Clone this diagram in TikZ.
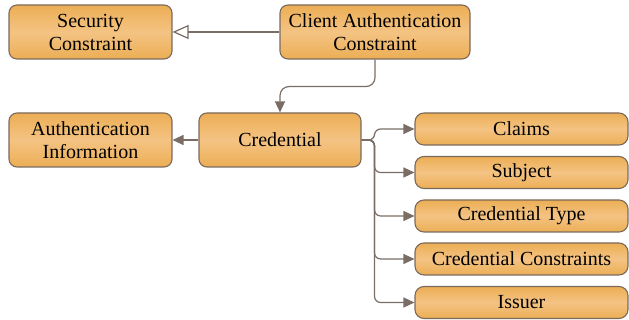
\documentclass[tikz,border=0pt]{standalone}
\usepackage{fontspec}
\setmainfont{Liberation Serif}
\usetikzlibrary{arrows.meta}
\definecolor{boxedge}{HTML}{7B6A5C}
\definecolor{boxtop}{HTML}{ECAE55}
\definecolor{boxmid}{HTML}{F4C383}
\definecolor{wire}{HTML}{7A6D66}
\tikzset{
  box/.style={draw=boxedge, line width=1.1pt, rounded corners=8pt,
    top color=boxtop, bottom color=boxtop, middle color=boxmid,
    align=center, inner sep=0pt, font=\fontsize{20}{23}\selectfont},
  bigbox/.style={box, minimum height=54pt},
  smallbox/.style={box, minimum height=32pt, minimum width=213pt, rounded corners=9pt},
  conn/.style={draw=wire, line width=1.2pt, -{Triangle[length=11pt,width=10pt]}},
  inherit/.style={draw=wire, line width=1.2pt, -{Triangle[open,length=16pt,width=14pt,fill=white]}}
}
\begin{document}
\begin{tikzpicture}[x=1pt,y=-1pt]
\useasboundingbox (0,0) rectangle (629,320);
% upper row
\node[bigbox, minimum width=163pt] (sec) at (90.5,32) {Security\\Constraint};
\node[bigbox, minimum width=190pt] (client) at (375,32) {Client Authentication\\Constraint};
% middle row
\node[bigbox, minimum width=163pt] (auth) at (90.5,140) {Authentication\\Information};
\node[bigbox, minimum width=162pt] (cred) at (280,140) {Credential};
% credential parts
\node[smallbox] (claims) at (521.5,129) {Claims};
\node[smallbox] (subject) at (521.5,172.5) {Subject};
\node[smallbox] (ctype) at (521.5,216) {Credential Type};
\node[smallbox] (ccons) at (521.5,259) {Credential Constraints};
\node[smallbox] (issuer) at (521.5,302.5) {Issuer};
% connectors
\draw[inherit] (client.west) -- (sec.east);
\draw[conn, rounded corners=9pt] (client.south) -- ++(0,27) -| (cred.north);
\draw[conn] (cred.west) -- (auth.east);
\foreach \t in {claims,subject,ctype,ccons,issuer}
  \draw[conn, rounded corners=6pt] (cred.east) -- ++(13,0) |- (\t.west);
\end{tikzpicture}
\end{document}
